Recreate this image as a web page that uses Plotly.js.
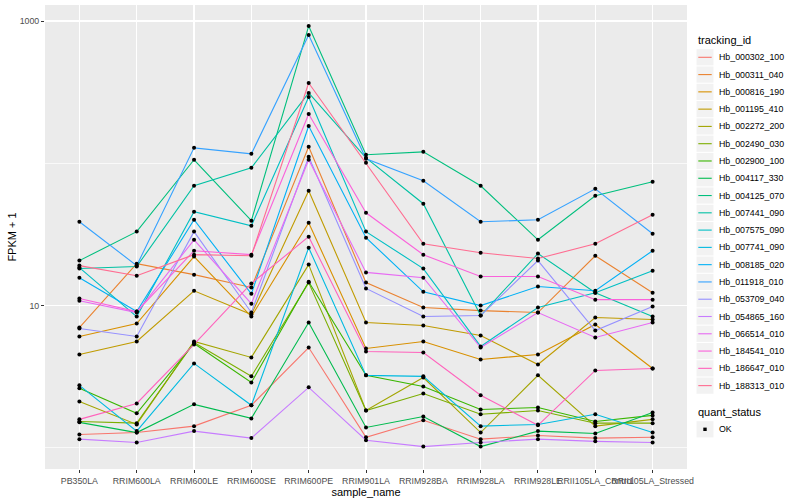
<!DOCTYPE html>
<html><head><meta charset="utf-8">
<script src="https://cdn.plot.ly/plotly-3.0.1.min.js"></script>
<style>html,body{margin:0;padding:0;background:#fff}#chart{width:800px;height:500px}</style>
</head><body><div id="chart"></div>
<script>
// ---- data (FPKM + 1) ----
const categories = ["PB350LA","RRIM600LA","RRIM600LE","RRIM600SE","RRIM600PE","RRIM901LA","RRIM928BA","RRIM928LA","RRIM928LE","RRII105LA_Control","RRII105LA_Stressed"];

const seriesNames = ["Hb_000302_100","Hb_000311_040","Hb_000816_190","Hb_001195_410","Hb_002272_200","Hb_002490_030","Hb_002900_100","Hb_004117_330","Hb_004125_070","Hb_007441_090","Hb_007575_090","Hb_007741_090","Hb_008185_020","Hb_011918_010","Hb_053709_040","Hb_054865_160","Hb_066514_010","Hb_184541_010","Hb_186647_010","Hb_188313_010"];

const seriesColors = ["#F8766D","#EA8331","#D89000","#C09B00","#A3A500","#7CAE00","#39B600","#00BB4E","#00BF7D","#00C1A3","#00BFC4","#00BAE0","#00B0F6","#35A2FF","#9590FF","#C77CFF","#E76BF3","#FA62DB","#FF62BC","#FF6C91"];

const Hb_000302_100 = [1.24, 1.28, 1.42, 1.99, 5.07, 1.185, 1.56, 1.15, 1.22, 1.17, 1.185];
const Hb_000311_040 = [7.01, 19.7, 16.5, 13.4, 130.6, 14.5, 9.68, 9.22, 8.93, 22.4, 12.3];
const Hb_000816_190 = [6.06, 7.48, 22.1, 8.37, 38.2, 4.99, 5.59, 4.18, 4.53, 7.36, 3.61];
const Hb_001195_410 = [4.53, 5.59, 12.7, 8.65, 64.1, 7.60, 7.24, 6.16, 3.85, 8.24, 7.98];
const Hb_002272_200 = [2.12, 1.46, 5.59, 4.32, 19.4, 1.83, 3.12, 1.28, 3.23, 1.42, 1.585];
const Hb_002490_030 = [1.53, 1.49, 5.50, 3.18, 14.5, 1.83, 2.41, 1.72, 1.83, 1.49, 1.49];
const Hb_002900_100 = [2.62, 1.75, 5.41, 2.88, 14.7, 3.23, 2.70, 1.86, 1.92, 1.53, 1.69];
const Hb_004117_330 = [1.51, 1.28, 2.02, 1.61, 7.60, 1.39, 1.66, 1.02, 1.31, 1.26, 1.77];
const Hb_004125_070 = [20.7, 33.1, 105.9, 39.5, 922.6, 114.8, 120.4, 69.5, 29.0, 59.1, 74.2];
const Hb_007441_090 = [18.2, 18.8, 69.5, 93.0, 312.6, 109.3, 52.0, 8.51, 23.2, 12.3, 8.37];
const Hb_007575_090 = [18.5, 8.37, 45.7, 36.4, 293, 33.1, 18.2, 5.16, 9.68, 12.3, 17.6];
const Hb_007741_090 = [2.75, 1.31, 3.92, 1.99, 25.5, 3.23, 3.18, 1.42, 1.46, 1.72, 1.28];
const Hb_008185_020 = [15.7, 9.07, 40.1, 12.1, 183, 30.0, 12.5, 10.0, 13.6, 12.7, 24.3];
const Hb_011918_010 = [38.8, 19.1, 128.5, 116.6, 797, 107.6, 75.4, 38.8, 40.1, 66.2, 32.0];
const Hb_053709_040 = [6.90, 6.06, 33.1, 8.93, 111.1, 13.2, 8.37, 8.51, 20.7, 6.68, 9.84];
const Hb_054865_160 = [1.15, 1.09, 1.31, 1.17, 2.66, 1.13, 1.02, 1.09, 1.15, 1.11, 1.09];
const Hb_066514_010 = [10.8, 8.93, 29.0, 10.3, 105.9, 17.1, 15.7, 5.07, 8.93, 5.96, 7.60];
const Hb_184541_010 = [11.2, 9.07, 24.3, 22.8, 222, 44.9, 22.8, 16.0, 16.0, 11.0, 11.0];
const Hb_186647_010 = [1.585, 2.05, 5.33, 14.3, 30.5, 4.75, 4.68, 2.34, 1.44, 3.50, 3.61];
const Hb_188313_010 = [19.1, 16.2, 22.8, 22.4, 367, 100.8, 27.2, 23.5, 21.4, 27.2, 43.5];

const seriesValues = [Hb_000302_100, Hb_000311_040, Hb_000816_190, Hb_001195_410, Hb_002272_200, Hb_002490_030, Hb_002900_100, Hb_004117_330, Hb_004125_070, Hb_007441_090, Hb_007575_090, Hb_007741_090, Hb_008185_020, Hb_011918_010, Hb_053709_040, Hb_054865_160, Hb_066514_010, Hb_184541_010, Hb_186647_010, Hb_188313_010];

const yTickVals = [10, 1000];
const yTickText = ["10", "1000"];
const yMinorVals = [1, 100];
const quantStatusLevels = ["OK"];

// ---- traces ----
const traces = seriesNames.map((name, i) => ({
  type: "scatter", mode: "lines", name: name,
  x: categories, y: seriesValues[i],
  line: {color: seriesColors[i], width: 1.1},
  showlegend: false, hoverinfo: "skip"
}));
const allX = [], allY = [];
seriesValues.forEach(vals => vals.forEach((v, j) => { allX.push(categories[j]); allY.push(v); }));
traces.push({
  type: "scatter", mode: "markers", name: quantStatusLevels[0],
  x: allX, y: allY, marker: {color: "#000000", size: 4, symbol: "circle"},
  showlegend: false, hoverinfo: "skip"
});

// ---- manual ggplot-like legend ----
const L = 45, R = 687, T = 5, B = 469;
const xp = px => (px - L) / (R - L);
const yp = py => (B - py) / (B - T);
const shapes = [], annotations = [];
const FONT = "Liberation Sans, Arial, Helvetica, sans-serif";
annotations.push({xref: "paper", yref: "paper", x: xp(696), y: yp(40.5), text: "tracking_id",
  showarrow: false, xanchor: "left", yanchor: "middle", font: {family: FONT, size: 11, color: "#000"}});
const step = 17.28, y0 = 57.3;
seriesNames.forEach((name, i) => {
  const cy = y0 + i * step;
  shapes.push({type: "rect", xref: "paper", yref: "paper", x0: xp(696.5), x1: xp(713.5),
    y0: yp(cy - 8.1), y1: yp(cy + 8.1), fillcolor: "#F2F2F2", line: {width: 0}, layer: "below"});
  shapes.push({type: "line", xref: "paper", yref: "paper", x0: xp(698.3), x1: xp(711.7),
    y0: yp(cy), y1: yp(cy), line: {color: seriesColors[i], width: 1.1}});
  annotations.push({xref: "paper", yref: "paper", x: xp(716.5), y: yp(cy), text: name,
    showarrow: false, xanchor: "left", yanchor: "middle", font: {family: FONT, size: 8.8, color: "#000"}});
});
annotations.push({xref: "paper", yref: "paper", x: xp(696), y: yp(412), text: "quant_status",
  showarrow: false, xanchor: "left", yanchor: "middle", font: {family: FONT, size: 11, color: "#000"}});
const okY = 429.3;
shapes.push({type: "rect", xref: "paper", yref: "paper", x0: xp(696.5), x1: xp(713.5),
  y0: yp(okY - 8.1), y1: yp(okY + 8.1), fillcolor: "#F2F2F2", line: {width: 0}, layer: "below"});
shapes.push({type: "rect", xref: "paper", yref: "paper", x0: xp(703.3), x1: xp(706.7),
  y0: yp(okY - 1.7), y1: yp(okY + 1.7), fillcolor: "#000", line: {width: 0}});
annotations.push({xref: "paper", yref: "paper", x: xp(716.5), y: yp(okY), text: quantStatusLevels[0],
  showarrow: false, xanchor: "left", yanchor: "middle", font: {family: FONT, size: 8.8, color: "#000"}});

const layout = {
  width: 800, height: 500,
  margin: {l: L, r: 800 - R, t: T, b: 500 - B, pad: 0},
  paper_bgcolor: "#FFFFFF", plot_bgcolor: "#EBEBEB",
  font: {family: FONT, color: "#000"},
  showlegend: false,
  xaxis: {
    type: "category", categoryorder: "array", categoryarray: categories,
    range: [-0.6, categories.length - 0.4],
    showgrid: true, gridcolor: "#FFFFFF", gridwidth: 1.4, zeroline: false, showline: false,
    ticks: "outside", ticklen: 3, tickwidth: 1, tickcolor: "#333333", tickangle: 0,
    tickfont: {family: FONT, size: 8.8, color: "#4D4D4D"},
    title: {text: "sample_name", font: {family: FONT, size: 11, color: "#000"}, standoff: 0},
    automargin: false
  },
  yaxis: {
    type: "log", range: [-0.149, 3.113],
    tickmode: "array", tickvals: yTickVals, ticktext: yTickText,
    showgrid: true, gridcolor: "#FFFFFF", gridwidth: 1.4, zeroline: false, showline: false,
    ticks: "outside", ticklen: 3, tickwidth: 1, tickcolor: "#333333",
    tickfont: {family: FONT, size: 8.8, color: "#4D4D4D"},
    minor: {tickmode: "array", tickvals: yMinorVals, showgrid: true, gridcolor: "#FFFFFF", gridwidth: 0.7, ticks: ""},
    title: {text: "FPKM + 1", font: {family: FONT, size: 11, color: "#000"}, standoff: 0},
    automargin: false
  },
  shapes: shapes, annotations: annotations
};
Plotly.newPlot("chart", traces, layout, {staticPlot: true, displayModeBar: false});
</script>
</body></html>
